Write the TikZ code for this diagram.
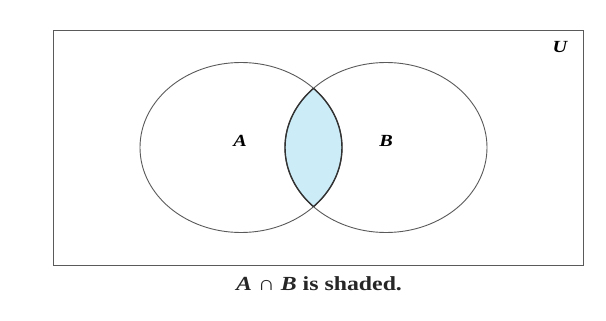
\documentclass[tikz,border=0pt]{standalone}
\usepackage{fontspec}
\setmainfont{Liberation Serif}
\definecolor{lensblue}{RGB}{204,236,248}
\definecolor{linegray}{RGB}{90,90,90}
\begin{document}
\begin{tikzpicture}[x=1pt,y=-1pt,
  setline/.style={draw=linegray,line width=0.9pt},
  lbl/.style={font=\fontsize{17}{20}\selectfont\itshape\bfseries,inner sep=0pt,xscale=1.19}]
\useasboundingbox (0,0) rectangle (606,321);
\fill[white] (0,0) rectangle (606,321);
% universe
\draw[setline] (53.5,30) rectangle (583,265.5);
% lens fill
\begin{scope}
  \clip (241,147.5) ellipse [x radius=101,y radius=85];
  \fill[lensblue] (386,147.5) ellipse [x radius=101,y radius=85];
\end{scope}
% circles
\draw[setline] (241,147.5) ellipse [x radius=101,y radius=85];
\draw[setline] (386,147.5) ellipse [x radius=101,y radius=85];
% darker lens boundary
\begin{scope}
  \clip (241,147.5) ellipse [x radius=101,y radius=85];
  \draw[draw=black!80,line width=1.4pt] (386,147.5) ellipse [x radius=101,y radius=85];
\end{scope}
\begin{scope}
  \clip (386,147.5) ellipse [x radius=101,y radius=85];
  \draw[draw=black!80,line width=1.4pt] (241,147.5) ellipse [x radius=101,y radius=85];
\end{scope}
% labels
\node[lbl] (A) at (240,141) {A};
\node[lbl] (B) at (386,141) {B};
\node[lbl] (U) at (560,47) {U};
\node[font=\fontsize{20}{22}\selectfont\bfseries,inner sep=0pt,text=black!85,xscale=1.19] (cap) at (319,284) {\textit{A} ∩ \textit{B} is shaded.};
\end{tikzpicture}
\end{document}
